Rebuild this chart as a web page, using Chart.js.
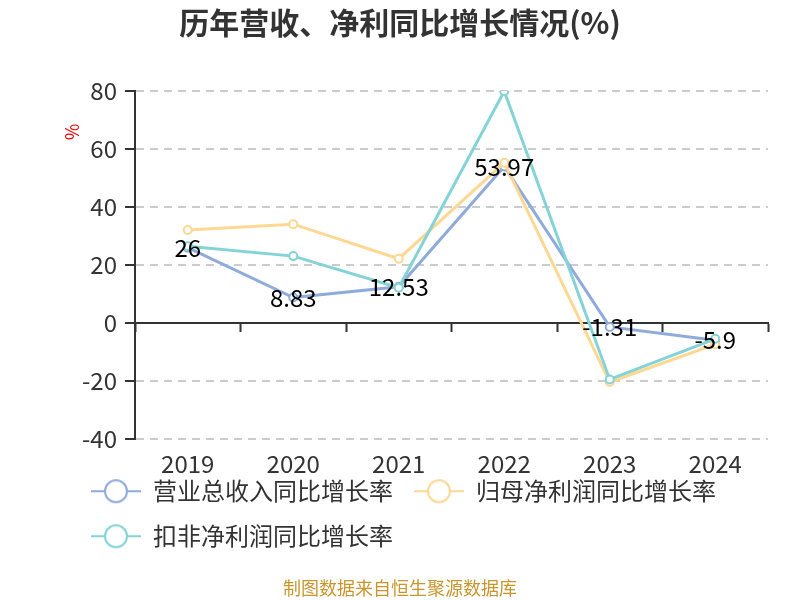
<!DOCTYPE html>
<html>
<head>
<meta charset="utf-8">
<script src="https://cdn.jsdelivr.net/npm/chart.js@4/dist/chart.umd.min.js"></script>
<style>
  html, body { margin: 0; background: #fff; }
</style>
</head>
<body>
<canvas id="chart" width="800" height="600"></canvas>
<script>
const years = ['2019', '2020', '2021', '2022', '2023', '2024'];
const revenueGrowth = [26, 8.83, 12.53, 53.97, -1.31, -5.9];
const netProfitGrowth = [32.1, 34.1, 22.2, 55.3, -20.3, -7.3];
const deductedGrowth = [26.5, 23.1, 12.2, 79.9, -19.4, -5.4];
const seriesNames = ['营业总收入同比增长率', '归母净利润同比增长率', '扣非净利润同比增长率'];
const titleText = '历年营收、净利同比增长情况(%)';
const sourceText = '制图数据来自恒生聚源数据库';

const colors = ['#8eabdc', '#fdd893', '#84d3d6'];
const FONT = '"Noto Sans CJK SC", "Noto Sans", sans-serif';
Chart.defaults.font.family = FONT;

// legend icon: short line with a hollow circle in the middle
function legendIcon(color) {
  const c = document.createElement('canvas');
  c.width = 50; c.height = 26;
  const g = c.getContext('2d');
  g.strokeStyle = color;
  g.lineWidth = 2;
  g.beginPath(); g.moveTo(0, 13); g.lineTo(50, 13); g.stroke();
  g.fillStyle = '#fff';
  g.beginPath(); g.arc(25, 13, 11, 0, Math.PI * 2); g.fill(); g.stroke();
  return c;
}

// title, source line, unit and value labels
const extras = {
  id: 'extras',
  afterLayout(chart) {
    // pull the legend up so it sits right under the year labels
    const lg = chart.legend;
    const dy = lg.top - (chart.chartArea.bottom + 19);
    lg.top -= dy;
    lg.bottom -= dy;
  },
  afterDatasetsDraw(chart) {
    const ctx = chart.ctx;
    const meta = chart.getDatasetMeta(0);
    ctx.save();
    ctx.font = '24px ' + FONT;
    ctx.fillStyle = '#000';
    ctx.textAlign = 'center';
    ctx.textBaseline = 'middle';
    meta.data.forEach((pt, i) => ctx.fillText(String(revenueGrowth[i]), pt.x, pt.y));
    ctx.restore();
  },
  afterDraw(chart) {
    const ctx = chart.ctx;
    const area = chart.chartArea;
    ctx.save();
    ctx.textAlign = 'center';
    ctx.textBaseline = 'middle';
    ctx.fillStyle = '#333';
    ctx.font = 'bold 30px ' + FONT;
    ctx.fillText(titleText, chart.width / 2, 23);
    ctx.fillStyle = '#c8962d';
    ctx.font = '18px ' + FONT;
    ctx.fillText(sourceText, chart.width / 2, 588);
    ctx.translate(area.left - 63, area.top + 41);
    ctx.rotate(-Math.PI / 2);
    ctx.fillStyle = '#e00';
    ctx.font = '18px ' + FONT;
    ctx.fillText('%', 0, 0);
    ctx.restore();
  }
};

const makeSet = (i, data) => ({
  label: seriesNames[i],
  data: data,
  xAxisID: 'x',
  borderColor: colors[i],
  backgroundColor: colors[i],
  borderWidth: 3,
  pointRadius: 4,
  pointBorderWidth: 2,
  pointBackgroundColor: '#fff',
  pointBorderColor: colors[i],
  tension: 0,
  order: 3 - i
});

new Chart(document.getElementById('chart'), {
  type: 'line',
  data: {
    labels: years,
    datasets: [
      makeSet(0, revenueGrowth),
      makeSet(1, netProfitGrowth),
      makeSet(2, deductedGrowth)
    ]
  },
  options: {
    responsive: false,
    animation: false,
    devicePixelRatio: 1,
    layout: { padding: { left: 70, right: 32, top: 91, bottom: 20 } },
    scales: {
      x: {
        type: 'category',
        position: { y: 0 },
        offset: true,
        grid: { drawOnChartArea: false, offset: true, tickLength: 8, tickColor: '#333', tickWidth: 2 },
        border: { color: '#333', width: 2 },
        ticks: { display: false }
      },
      x2: {
        type: 'category',
        position: 'bottom',
        labels: years,
        offset: true,
        grid: { display: false },
        border: { display: false },
        ticks: { color: '#333', font: { size: 24 }, padding: 2 }
      },
      y: {
        min: -40,
        max: 80,
        ticks: { stepSize: 20, color: '#333', font: { size: 24 }, padding: 8 },
        grid: { color: '#cccccc', lineWidth: 2, tickLength: 10, tickColor: '#333', tickWidth: 2 },
        border: { display: true, color: '#333', width: 2, dash: [8, 6] },
        afterFit(scale) { scale.width = 65; }
      }
    },
    plugins: {
      tooltip: { enabled: false },
      title: { display: false },
      legend: {
        position: 'bottom',
        align: 'start',
        labels: {
          usePointStyle: true,
          pointStyleWidth: 50,
          boxHeight: 24,
          padding: 21,
          color: '#333',
          font: { size: 24 },
          generateLabels(chart) {
            return chart.data.datasets.map((ds, i) => ({
              text: ds.label,
              pointStyle: legendIcon(colors[i]),
              fillStyle: colors[i],
              strokeStyle: colors[i],
              lineWidth: 0,
              fontColor: '#333',
              hidden: false,
              datasetIndex: i
            }));
          }
        }
      }
    }
  },
  plugins: [extras]
});
</script>
</body>
</html>
